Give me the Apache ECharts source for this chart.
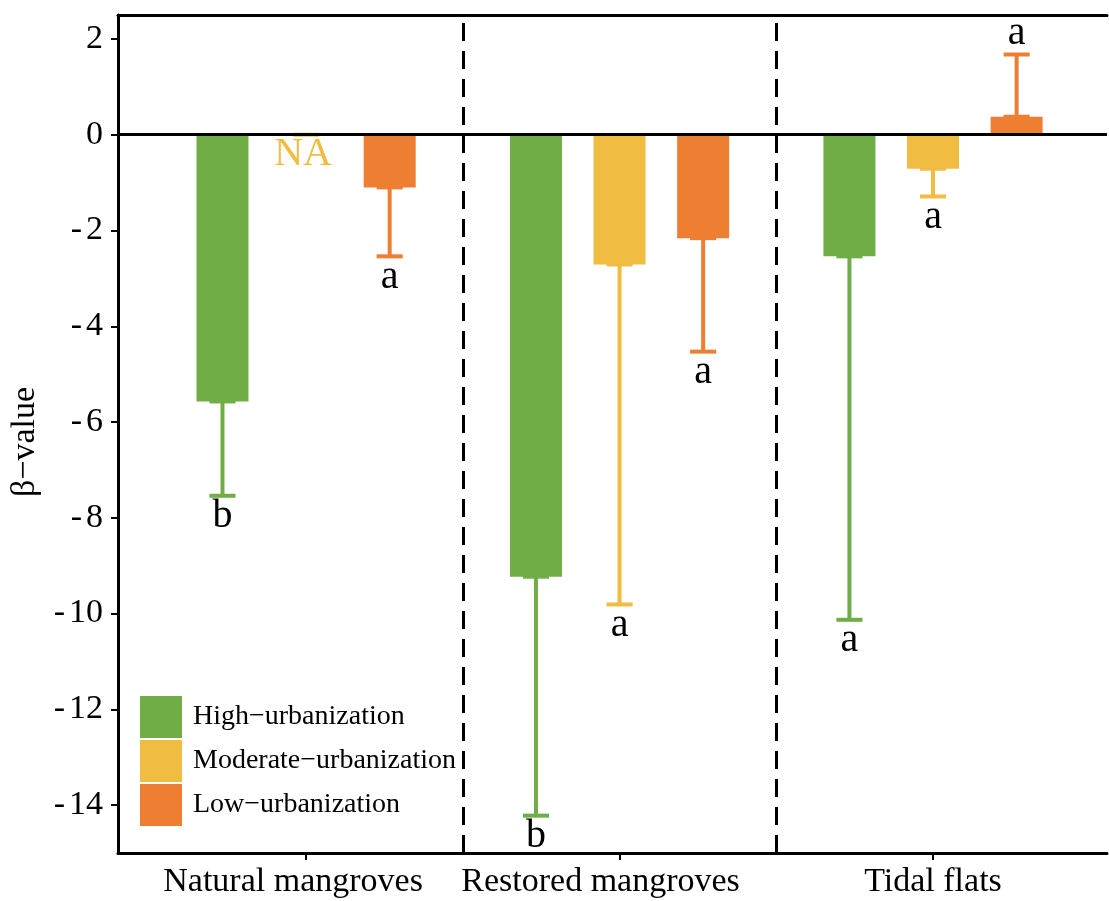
<!DOCTYPE html>
<html>
<head>
<meta charset="utf-8">
<title>β-value by habitat and urbanization</title>
<script src="https://cdn.jsdelivr.net/npm/echarts@6.0.0/dist/echarts.min.js"></script>
<style>
  html, body { margin: 0; padding: 0; background: #fff; }
  #chart { width: 1109px; height: 901px; }
</style>
</head>
<body>
<div id="chart"></div>
<script>
// data
const groups = ['Natural mangroves', 'Restored mangroves', 'Tidal flats'];
const levels = ['High\u2212urbanization', 'Moderate\u2212urbanization', 'Low\u2212urbanization'];

const highMean = [-5.57, -9.23, -2.54];
const highErr = [1.97, 4.99, 7.59];
const highLetters = ['b', 'b', 'a'];

const modMean = [null, -2.71, -0.71]; // NA for natural mangroves
const modErr = [null, 7.10, 0.58];
const modLetters = ['NA', 'a', 'a'];

const lowMean = [-1.10, -2.16, 0.375];
const lowErr = [1.44, 2.37, 1.30];
const lowLetters = ['a', 'a', 'a'];

const yTicks = [-14, -12, -10, -8, -6, -4, -2, 0, 2];

const colors = ['#70AD47', '#F0BC42', '#EE7E32'];
const dodge = 0.8 / 3;          // ggplot position_dodge(0.8)
const capWidth = 0.25 / 3;      // errorbar width in axis units
const serif = "'Liberation Serif', 'Times New Roman', serif";

const means = [highMean, modMean, lowMean];
const errs = [highErr, modErr, lowErr];
const letters = [highLetters, modLetters, lowLetters];

function xPos(g, l) {
  return g + (l - 1) * dodge;
}

function errorRenderer(l) {
  const color = colors[l];
  return function (params, api) {
    const i = params.dataIndex;
    const x = api.value(0);
    const m = means[l][i];
    const half = api.size([capWidth, 0])[0] / 2;
    const style = { stroke: color, lineWidth: 4 };
    const kids = [];
    const cap = (p) => ({
      type: 'line',
      shape: { x1: p[0] - half, y1: p[1], x2: p[0] + half, y2: p[1] },
      style: style
    });
    if (m == null) {
      const p = api.coord([x, 0]);
      kids.push(cap(p));
      kids.push({
        type: 'text',
        style: {
          text: letters[l][i], x: p[0] - 3, y: p[1] + 20,
          fill: color, font: '40px ' + serif,
          align: 'center', verticalAlign: 'middle'
        }
      });
      return { type: 'group', children: kids };
    }
    const end = m < 0 ? m - errs[l][i] : m + errs[l][i];
    const p0 = api.coord([x, m]);
    const p1 = api.coord([x, end]);
    kids.push({
      type: 'line',
      shape: { x1: p0[0], y1: p0[1], x2: p1[0], y2: p1[1] },
      style: style
    });
    kids.push(cap(p0));
    kids.push(cap(p1));
    kids.push({
      type: 'text',
      style: {
        text: letters[l][i], x: p1[0], y: p1[1] + (m < 0 ? 21 : -21),
        fill: '#000', font: '40px ' + serif,
        align: 'center', verticalAlign: 'middle'
      }
    });
    return { type: 'group', children: kids };
  };
}

const barSeries = levels.map((name, l) => ({
  name: name,
  type: 'bar',
  barWidth: 52,
  barGap: '-100%',
  itemStyle: { color: colors[l] },
  data: groups.map((g, i) => [xPos(i, l), means[l][i]]),
  z: 2
}));

const errSeries = levels.map((name, l) => ({
  type: 'custom',
  renderItem: errorRenderer(l),
  data: groups.map((g, i) => [xPos(i, l), means[l][i] == null ? 0 : means[l][i]]),
  clip: false,
  z: 3
}));

const refLines = {
  type: 'custom',
  renderItem: () => null,
  data: [],
  silent: true,
  z: 4,
  markLine: {
    silent: true,
    symbol: 'none',
    label: { show: false },
    data: [
      { yAxis: 0, lineStyle: { color: '#000', width: 3, type: 'solid' } },
      { xAxis: 0.5, lineStyle: { color: '#000', width: 3, type: [18, 10] } },
      { xAxis: 1.5, lineStyle: { color: '#000', width: 3, type: [18, 10] } }
    ]
  }
};

const chart = echarts.init(document.getElementById('chart'), null, { renderer: 'canvas' });

chart.setOption({
  backgroundColor: '#fff',
  animation: false,
  grid: { left: 118, top: 15, width: 989, bottom: 48, containLabel: false },
  legend: {
    data: levels,
    orient: 'vertical',
    left: 140,
    top: 696,
    padding: 0,
    icon: 'rect',
    itemWidth: 42,
    itemHeight: 42,
    itemGap: 2,
    textStyle: { fontFamily: serif, fontSize: 28, color: '#000', padding: [8, 0, 0, 6] }
  },
  xAxis: [
    {
      type: 'value',
      min: -0.6,
      max: 2.555,
      position: 'bottom',
      splitLine: { show: false },
      axisLine: { show: true, onZero: false, lineStyle: { color: '#000', width: 3 } },
      axisTick: { show: true, customValues: [0, 1, 2], length: 7, lineStyle: { color: '#000', width: 2 } },
      axisLabel: {
        customValues: [0, 1, 2],
        formatter: (v) => '{g' + Math.round(v) + '|' + groups[Math.round(v)] + '}',
        fontFamily: serif, fontSize: 34, color: '#000', margin: 12,
        rich: {
          g0: { fontFamily: serif, fontSize: 34, color: '#000', padding: [0, 26, 0, 0] },
          g1: { fontFamily: serif, fontSize: 34, color: '#000', padding: [0, 38, 0, 0] },
          g2: { fontFamily: serif, fontSize: 34, color: '#000' }
        }
      }
    },
    {
      type: 'value',
      min: -0.6,
      max: 2.555,
      position: 'top',
      splitLine: { show: false },
      axisLine: { show: true, onZero: false, lineStyle: { color: '#000', width: 3 } },
      axisTick: { show: false },
      axisLabel: { show: false }
    }
  ],
  yAxis: {
    type: 'value',
    min: -15,
    max: 2.5,
    name: '\u03B2\u2212value',
    nameLocation: 'middle',
    nameGap: 76,
    nameTextStyle: { fontFamily: serif, fontSize: 34, color: '#000', padding: [0, 16, 0, 0] },
    splitLine: { show: false },
    axisLine: { show: true, onZero: false, lineStyle: { color: '#000', width: 3 } },
    axisTick: { show: true, customValues: yTicks, length: 7, lineStyle: { color: '#000', width: 2 } },
    axisLabel: {
      customValues: yTicks,
      formatter: (v) => v < 0 ? '{h|-}{n|' + Math.abs(v) + '}' : '{n|' + v + '}',
      fontFamily: serif, fontSize: 34, color: '#000', margin: 15,
      rich: {
        h: { fontFamily: serif, fontSize: 34, color: '#000', padding: [0, 4, 0, 0] },
        n: { fontFamily: serif, fontSize: 34, color: '#000' }
      }
    }
  },
  series: [...barSeries, ...errSeries, refLines]
});
</script>
</body>
</html>
